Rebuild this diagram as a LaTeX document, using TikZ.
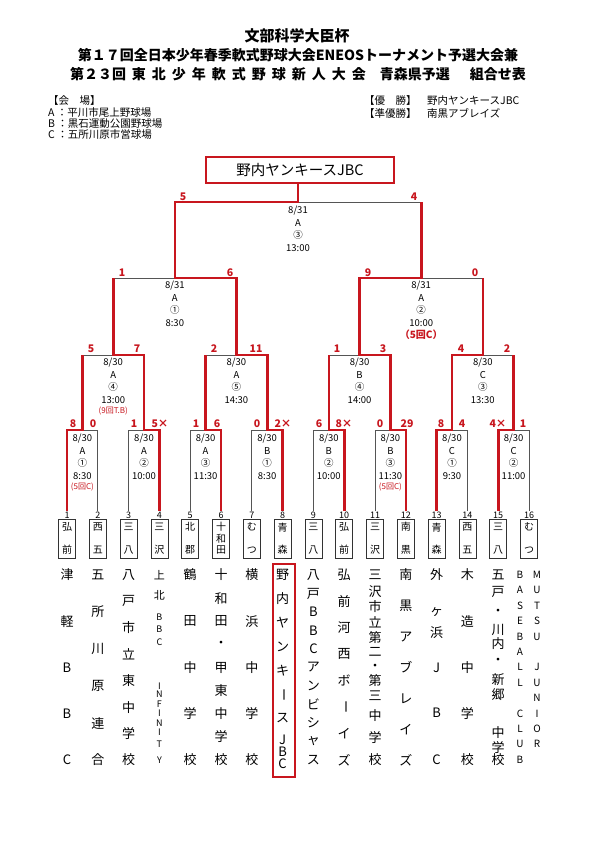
\documentclass[tikz,border=0pt]{standalone}
\usepackage{fontspec}
\usepackage{graphicx}
\setmainfont{Noto Sans CJK JP}
\usetikzlibrary{positioning,calc}
\definecolor{WinRed}{HTML}{C8161E}
\definecolor{LoseGray}{HTML}{555555}

% vertical team names, evenly spread
\newcommand{\teamname}[3]{\foreach \ch [count=\k] in {#3}
  \node[namechar] (n#1-\k) at ({67+30.8*(#1-1)},{575+(\k-1)*185/(#2-1)}) {\ch};}
\newcommand{\boxchars}[1]{\vbox to 31pt{\foreach \ch [count=\k] in #1{\ifnum\k>1 \vfill\fi\hbox to 12pt{\hss\vphantom{国}\ch\hss}}}}
\newcommand{\tate}{\rotatebox[origin=c]{-90}{ー}}
\newcommand{\gap}{\hspace{6pt}}

\begin{document}
\begin{tikzpicture}[x=1pt,y=-1pt,
    win/.style={draw=WinRed,line width=2.6pt},
    lose/.style={draw=LoseGray,line width=0.8pt},
    info/.style={font=\fontsize{9.5}{12.5}\selectfont,align=center,anchor=north,inner sep=0pt},
    note/.style={text=WinRed,font=\fontsize{8}{9}\selectfont,inner sep=0pt},
    score/.style={text=WinRed,font=\bfseries\fontsize{10.5}{11}\selectfont,inner sep=0pt},
    teambox/.style={draw=black!80,line width=0.6pt,minimum width=17pt,minimum height=39pt,inner sep=0pt,font=\fontsize{10}{10}\selectfont},
    num/.style={font=\fontsize{9}{9}\selectfont,inner sep=0pt},
    namechar/.style={font=\fontsize{13}{13}\selectfont,inner sep=0pt},
    small/.style={namechar,font=\fontsize{9}{9}\selectfont},
    champ/.style={draw=WinRed,line width=2.5pt,minimum width=188pt,minimum height=26pt,font=\fontsize{14.5}{15}\selectfont},
    head/.style={font=\bfseries\fontsize{14}{15}\selectfont,inner sep=0pt},
    venue/.style={font=\fontsize{10.5}{11}\selectfont,inner sep=0pt,anchor=west}
]
\fill[white] (0,0) rectangle (595,841);
\useasboundingbox (0,0) rectangle (595,841);

% title and venues
\node[head,font=\bfseries\fontsize{15}{16}\selectfont] (t-a) at (297,36) {文部科学大臣杯};
\node[head] (t-b) at (298,55) {第１７回全日本少年春季軟式野球大会ENEOSトーナメント予選大会兼};
\node[head] (t-c) at (298,74) {第２３回\gap 東\gap 北\gap 少\gap 年\gap 軟\gap 式\gap 野\gap 球\gap 新\gap 人\gap 大\gap 会\hspace{14pt}青森県予選\hspace{20pt}組合せ表};
\node[venue] (v0) at (48,101) {【会　場】};
\node[venue] (vA) at (48,113) {A ：平川市尾上野球場};
\node[venue] (vB) at (48,124) {B ：黒石運動公園野球場};
\node[venue] (vC) at (48,135) {C ：五所川原市営球場};
\node[venue] (w1) at (364,101) {【優　勝】　野内ヤンキースJBC};
\node[venue] (w2) at (364,113) {【準優勝】　南黒アブレイズ};

% bracket points
\foreach \i in {1,...,16} \coordinate (t\i) at ({67+30.8*(\i-1)},511);
\foreach \j in {1,...,8} \coordinate (m\j) at ({82.4+61.6*(\j-1)},430);
\foreach \k in {1,...,4} \coordinate (q\k) at ({113.2+123.2*(\k-1)},355);
\coordinate (s1) at (174.8,278);
\coordinate (s2) at (421.2,278);
\coordinate (f) at (298,202);
\node[champ] (champ) at (300,170) {野内ヤンキースJBC};

% all lines thin first
\foreach \i [evaluate=\i as \j using {int((\i+1)/2)}] in {1,...,16} \draw[lose] (t\i) |- (m\j);
\foreach \j [evaluate=\j as \k using {int((\j+1)/2)}] in {1,...,8} \draw[lose] (m\j) |- (q\k);
\draw[lose] (q1) |- (s1);
\draw[lose] (q2) |- (s1);
\draw[lose] (q3) |- (s2);
\draw[lose] (q4) |- (s2);
\draw[lose] (s1) |- (f);
\draw[lose] (s2) |- (f);

% winners in red
\draw[win] (t1) |- (m1) -- (m1 |- q1);
\draw[win] (t4) |- (m2) |- (q1) -- (q1 |- s1);
\draw[win] (t6) |- (m3) -- (m3 |- q2);
\draw[win] (t8) |- (m4) |- (q2) |- (s1) |- (f) -- (f |- champ.south);
\draw[win] (t10) |- (m5) -- (m5 |- q3);
\draw[win] (t12) |- (m6) |- (q3) |- (s2) -- (s2 |- f);
\draw[win] (t13) |- (m7) |- (q4) -- (q4 |- s2);
\draw[win] (t15) |- (m8) -- (m8 |- q4);

% scores
\foreach \xx/\s [count=\k] in {73/8,93/0,134/1,160/5×,196/1,217/6,257/0,283/2×,
    319/6,344/8×,380/0,407/29,441/8,462/4,498/4×,523/1}
  \node[score] (r\k) at (\xx,424) {\s};
\foreach \xx/\s [count=\k] in {91/5,137/7,214/2,256/11,337/1,383/3,461/4,507/2}
  \node[score] (qs\k) at (\xx,349) {\s};
\foreach \xx/\s [count=\k] in {122/1,230/6,368/9,475/0}
  \node[score] (ss\k) at (\xx,273) {\s};
\node[score] (fs1) at (183,197) {5};
\node[score] (fs2) at (414,197) {4};

% match info
\foreach \v/\c/\h [count=\j] in {A/①/8:30,A/②/10:00,A/③/11:30,B/①/8:30,
    B/②/10:00,B/③/11:30,C/①/9:30,C/②/11:00}
  \node[info] (i\j) at ($(m\j)+(0,4)$) {8/30\\\v\\\c\\\h};
\foreach \v/\c/\h [count=\k] in {A/④/13:00,A/⑤/14:30,B/④/14:00,C/③/13:30}
  \node[info] (iq\k) at ($(q\k)+(0,3)$) {8/30\\\v\\\c\\\h};
\node[info] (is1) at ($(s1)+(0,3)$) {8/31\\A\\①\\8:30};
\node[info] (is2) at ($(s2)+(0,3)$) {8/31\\A\\②\\10:00};
\node[info] (if) at ($(f)+(0,4)$) {8/31\\A\\③\\13:00};
\node[note,below=3pt of i1] (c1) {(5回C)};
\node[note,below=3pt of i6] (c6) {(5回C)};
\node[note,below=3pt of iq1] (cq1) {(9回T.B)};
\node[note,below=3pt of is2,font=\bfseries\fontsize{10}{11}\selectfont] (cs2) {（5回C）};

% team numbers and short names
\foreach \i/\a in {1/{弘,前},2/{西,五},3/{三,八},4/{三,沢},5/{北,郡},6/{十,和,田},7/{む,つ},8/{青,森},
    9/{三,八},10/{弘,前},11/{三,沢},12/{南,黒},13/{青,森},14/{西,五},15/{三,八},16/{む,つ}} {
  \node[num] (no\i) at ({67+30.8*(\i-1)},515) {\i};
  \node[teambox] (b\i) at ({67+30.8*(\i-1)},538.5) {\boxchars{\a}};
}

% full names
\teamname{1}{5}{津,軽,B,B,C}
\teamname{2}{6}{五,所,川,原,連,合}
\teamname{3}{8}{八,戸,市,立,東,中,学,校}
\foreach \ch/\yy [count=\k] in {上/575,北/595}
  \node[namechar,font=\fontsize{11}{11}\selectfont] (n4-\k) at (159.4,\yy) {\ch};
\foreach \ch/\yy [count=\k] in {B/617,B/629,C/642,I/686,N/694,F/704,I/713,N/723,I/732,T/744,Y/760}
  \node[small] (n4s-\k) at (159.4,\yy) {\ch};
\teamname{5}{5}{鶴,田,中,学,校}
\teamname{6}{9}{十,和,田,・,甲,東,中,学,校}
\teamname{7}{5}{横,浜,中,学,校}
\foreach \ch/\yy [count=\k] in {野/575,内/599,ヤ/623,ン/647,キ/671,\tate/695,ス/718,J/740,B/752,C/764}
  \node[namechar] (n8-\k) at (282.6,\yy) {\ch};
\draw[WinRed,line width=2pt] (273,564) rectangle (294.5,777);
\teamname{9}{11}{八,戸,B,B,C,ア,ン,ビ,シ,ャ,ス}
\teamname{10}{8}{弘,前,河,西,ボ,\tate,イ,ズ}
\foreach \ch/\yy [count=\k] in {三/575,沢/592,市/607,立/622,第/638,二/652,・/667,第/681,三/696,中/716,学/738,校/760}
  \node[namechar] (n11-\k) at (375,\yy) {\ch};
\teamname{12}{7}{南,黒,ア,ブ,レ,イ,ズ}
\foreach \ch/\yy [count=\k] in {外/575,ヶ/612,浜/633,J/668,B/713,C/760}
  \node[namechar] (n13-\k) at (436.6,\yy) {\ch};
\teamname{14}{5}{木,造,中,学,校}
\foreach \ch/\yy [count=\k] in {五/575,戸/592,・/612,川/630,内/644,・/661,新/680,郷/695,中/733,学/748,校/760}
  \node[namechar] (n15-\k) at (498.2,\yy) {\ch};
\foreach \ch/\yy [count=\k] in {B/575,A/590,S/606,E/621,B/637,A/652,L/667,L/683,C/714,L/729,U/744,B/760}
  \node[small,font=\fontsize{10}{10}\selectfont] (n16a-\k) at (520,\yy) {\ch};
\foreach \ch/\yy [count=\k] in {M/575,U/590,T/606,S/621,U/637,J/667,U/683,N/698,I/714,O/729,R/744}
  \node[small,font=\fontsize{10}{10}\selectfont] (n16b-\k) at (537,\yy) {\ch};
\end{tikzpicture}
\end{document}
